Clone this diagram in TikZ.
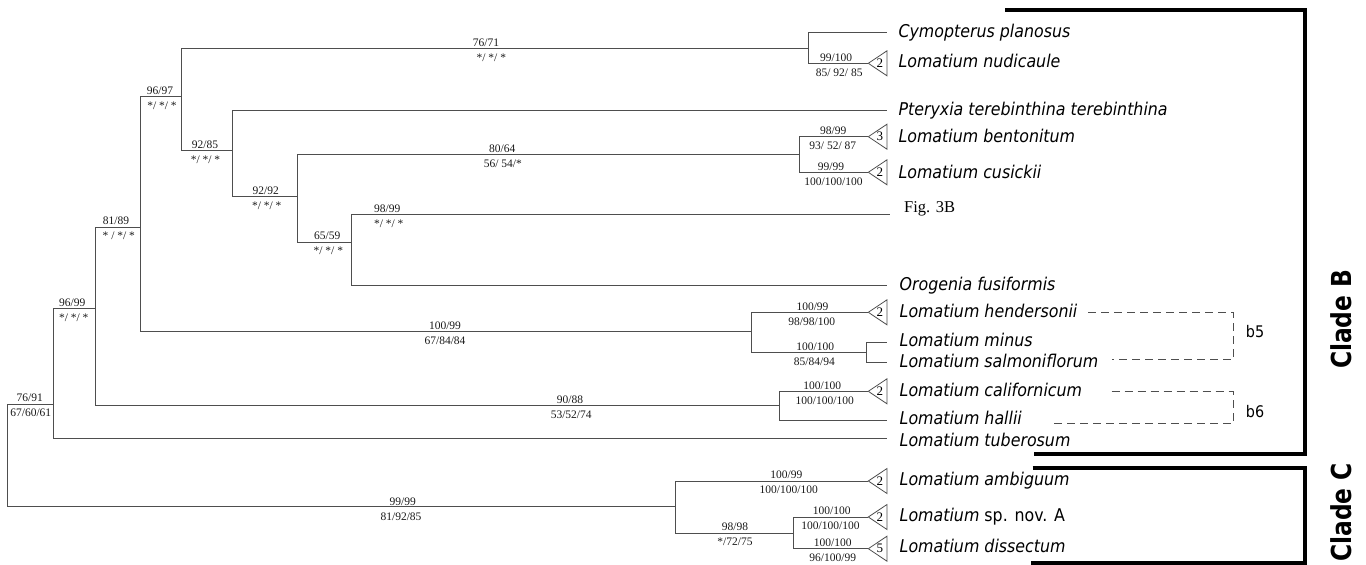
\documentclass[tikz,border=0pt]{standalone}
\usepackage{fontspec}
\setmainfont{Liberation Serif}
\newfontfamily\taxf[FakeStretch=0.9]{DejaVu Sans}
\newfontfamily\cladf[FakeStretch=0.85]{DejaVu Sans}
\definecolor{tree}{HTML}{4E4E4E}
\tikzset{
  br/.style={draw=tree, line width=1pt},
  tribox/.style={draw=tree, line width=0.8pt, line join=miter},
  sup/.style={anchor=base, inner sep=0pt, font=\fontsize{11.5}{12}\selectfont, text=black!90},
  trinum/.style={inner sep=0pt, font=\fontsize{13}{14}\selectfont},
  tax/.style={anchor=base west, inner sep=0pt, font=\taxf\itshape\fontsize{17.6}{20}\selectfont},
  bracketline/.style={draw=black, line width=4pt, line join=miter},
  dsh/.style={draw=tree, line width=1pt, dash pattern=on 8pt off 5pt},
  clade/.style={rotate=90, anchor=north east, inner sep=0pt, font=\cladf\bfseries\fontsize{27.5}{30}\selectfont},
  plainlab/.style={anchor=base west, inner sep=0pt, font=\taxf\fontsize{16}{18}\selectfont},
}
% support labels: id, line y, x top, top text, x bottom, bottom text
\newcommand\suplab[6]{%
  \node[sup] (#1a) at (#3,#2-2.3) {#4};
  \node[sup] (#1b) at (#5,#2+12.7) {#6};}
% collapsed clade triangle: apex coordinate name, number
\newcommand\mytri[2]{%
  \draw[tribox] (#1) -- ++(18.7,-12.5) -- ++(0,25) -- cycle;
  \node[trinum] (#1n) at ([xshift=11.5pt]#1) {#2};}
\begin{document}
\begin{tikzpicture}[x=1pt,y=-1pt]
\useasboundingbox (0,0) rectangle (1366,565);

% ---- internal nodes (x of vertical, y of stem) ----
\coordinate (root) at (7.3,455);
\coordinate (nB) at (53.3,404);
\coordinate (nC) at (675.7,506.3);
\coordinate (n9699) at (95,308.3);
\coordinate (n8189) at (140,227);
\coordinate (n9088) at (779.3,405.7);
\coordinate (n9697) at (181.7,96.3);
\coordinate (n10099) at (751.7,331.7);
\coordinate (n7671) at (808,48.3);
\coordinate (n9285) at (232.3,150.7);
\coordinate (n9292) at (297.7,196.3);
\coordinate (n8064) at (799.3,154.3);
\coordinate (n6559) at (351,242);
\coordinate (n100100) at (866.3,352.3);
\coordinate (n9898) at (793.7,533);

% ---- tips ----
\coordinate (tCym) at (886.7,32.3);
\coordinate (triNud) at (868.3,63.3);
\coordinate (tPter) at (886.7,110);
\coordinate (triBen) at (868.3,136.7);
\coordinate (triCus) at (868.3,172.3);
\coordinate (tFig) at (890,214.7);
\coordinate (tOro) at (886.7,285.3);
\coordinate (triHen) at (868.3,312.3);
\coordinate (tMin) at (886.7,342.3);
\coordinate (tSal) at (886.7,362.3);
\coordinate (triCal) at (868.3,391.3);
\coordinate (tHal) at (886.7,420.7);
\coordinate (tTub) at (886.7,438.7);
\coordinate (triAmb) at (868.3,481);
\coordinate (triSp) at (868.3,517);
\coordinate (triDis) at (868.3,548.7);

% ---- branches ----
\draw[br] (root) |- (nB);
\draw[br] (root) |- (nC);
\draw[br] (nB) |- (n9699);
\draw[br] (nB) |- (tTub);
\draw[br] (n9699) |- (n8189);
\draw[br] (n9699) |- (n9088);
\draw[br] (n8189) |- (n9697);
\draw[br] (n8189) |- (n10099);
\draw[br] (n9697) |- (n7671);
\draw[br] (n9697) |- (n9285);
\draw[br] (n7671) |- (tCym);
\draw[br] (n7671) |- (triNud);
\draw[br] (n9285) |- (tPter);
\draw[br] (n9285) |- (n9292);
\draw[br] (n9292) |- (n8064);
\draw[br] (n9292) |- (n6559);
\draw[br] (n8064) |- (triBen);
\draw[br] (n8064) |- (triCus);
\draw[br] (n6559) |- (tFig);
\draw[br] (n6559) |- (tOro);
\draw[br] (n10099) |- (triHen);
\draw[br] (n10099) |- (n100100);
\draw[br] (n100100) |- (tMin);
\draw[br] (n100100) |- (tSal);
\draw[br] (n9088) |- (triCal);
\draw[br] (n9088) |- (tHal);
\draw[br] (nC) |- (triAmb);
\draw[br] (nC) |- (n9898);
\draw[br] (n9898) |- (triSp);
\draw[br] (n9898) |- (triDis);

% ---- collapsed triangles ----
\mytri{triNud}{2}
\mytri{triBen}{3}
\mytri{triCus}{2}
\mytri{triHen}{2}
\mytri{triCal}{2}
\mytri{triAmb}{2}
\mytri{triSp}{2}
\mytri{triDis}{5}

% ---- support values ----
\suplab{s1}{404}{29.7}{76/91}{30.8}{67/60/61}
\suplab{s2}{308.3}{72.3}{96/99}{73.7}{*/ */ *}
\suplab{s3}{227}{116}{81/89}{118.8}{* / */ *}
\suplab{s4}{96.3}{160}{96/97}{162}{*/ */ *}
\suplab{s5}{48.3}{486}{76/71}{491.3}{*/ */ *}
\suplab{s6}{63.3}{836.2}{99/100}{839.2}{85/ 92/ 85}
\suplab{s7}{150.7}{205}{92/85}{205.5}{*/ */ *}
\suplab{s8}{196.3}{265.7}{92/92}{266.7}{*/ */ *}
\suplab{s9}{154.3}{502.3}{80/64}{502.8}{56/ 54/*}
\suplab{s10}{136.7}{833.3}{98/99}{832.8}{93/ 52/ 87}
\suplab{s11}{172.3}{831}{99/99}{833.5}{100/100/100}
\suplab{s12}{242}{327.3}{65/59}{328.3}{*/ */ *}
\suplab{s13}{214.7}{387.3}{98/99}{388.7}{*/ */ *}
\suplab{s14}{331.7}{445}{100/99}{445}{67/84/84}
\suplab{s15}{312.3}{812.5}{100/99}{811.7}{98/98/100}
\suplab{s16}{352.3}{815.3}{100/100}{814.3}{85/84/94}
\suplab{s17}{405.7}{570}{90/88}{571.2}{53/52/74}
\suplab{s18}{391.3}{822.2}{100/100}{824.7}{100/100/100}
\suplab{s19}{507.6}{402.7}{99/99}{401}{81/92/85}
\suplab{s20}{481}{786.3}{100/99}{788.7}{100/100/100}
\suplab{s21}{533}{735}{98/98}{735}{*/72/75}
\suplab{s22}{517}{831.7}{100/100}{830.5}{100/100/100}
\suplab{s23}{548.7}{832.7}{100/100}{832.8}{96/100/99}

% ---- taxon names ----
\node[tax] (Cym) at (898.3,37.5) {Cymopterus planosus};
\node[tax] (Nud) at (898.3,67.7) {Lomatium nudicaule};
\node[tax] (Pter) at (898.3,115) {Pteryxia terebinthina terebinthina};
\node[tax] (Ben) at (898.3,142.7) {Lomatium bentonitum};
\node[tax] (Cus) at (898.3,178.5) {Lomatium cusickii};
\node[anchor=base west, inner sep=0pt, font=\fontsize{16.5}{18}\selectfont] (Fig) at (904,212.3) {Fig. 3B};
\node[tax] (Oro) at (899.5,290) {Orogenia fusiformis};
\node[tax] (Hen) at (899.5,317.3) {Lomatium hendersonii};
\node[tax] (Min) at (899.5,346) {Lomatium minus};
\node[tax] (Sal) at (899.5,367.3) {Lomatium salmoniflorum};
\node[tax] (Cal) at (899.5,396.7) {Lomatium californicum};
\node[tax] (Hal) at (899.5,424) {Lomatium hallii};
\node[tax] (Tub) at (899.5,446.7) {Lomatium tuberosum};
\node[tax] (Amb) at (899.5,485) {Lomatium ambiguum};
\node[tax] (Sp) at (899.5,521.7) {Lomatium {\upshape sp. nov. A}};
\node[tax] (Dis) at (899.5,552.7) {Lomatium dissectum};

% ---- subgroup brackets b5, b6 ----
\coordinate (b5s) at (1088,312.3);
\coordinate (b5c1) at (1233.3,312.3);
\coordinate (b5c2) at (1233.3,359.3);
\coordinate (b5e) at (1111.7,359.3);
\draw[dsh] (b5s) -- (b5c1) -- (b5c2) -- (b5e);
\coordinate (b6s) at (1111.7,391.7);
\coordinate (b6c1) at (1233.3,391.7);
\coordinate (b6c2) at (1233.3,423.3);
\coordinate (b6e) at (1051.7,423.3);
\draw[dsh] (b6s) -- (b6c1) -- (b6c2) -- (b6e);
\node[plainlab] (b5) at (1245.7,337.3) {b5};
\node[plainlab] (b6) at (1245.7,417.3) {b6};

% ---- clade brackets ----
\coordinate (cB1) at (1005,9.5);
\coordinate (cB2) at (1304.5,9.5);
\coordinate (cB3) at (1304.5,454);
\coordinate (cB4) at (1034,454);
\draw[bracketline] (cB1) -- (cB2) -- (cB3) -- (cB4);
\coordinate (cC1) at (1032.7,467.5);
\coordinate (cC2) at (1304.5,467.5);
\coordinate (cC3) at (1304.5,562.5);
\coordinate (cC4) at (1030.7,562.5);
\draw[bracketline] (cC1) -- (cC2) -- (cC3) -- (cC4);
\node[clade] (cladeB) at (1330.7,269.3) {Clade B};
\node[clade] (cladeC) at (1330.7,462.7) {Clade C};
\end{tikzpicture}
\end{document}
